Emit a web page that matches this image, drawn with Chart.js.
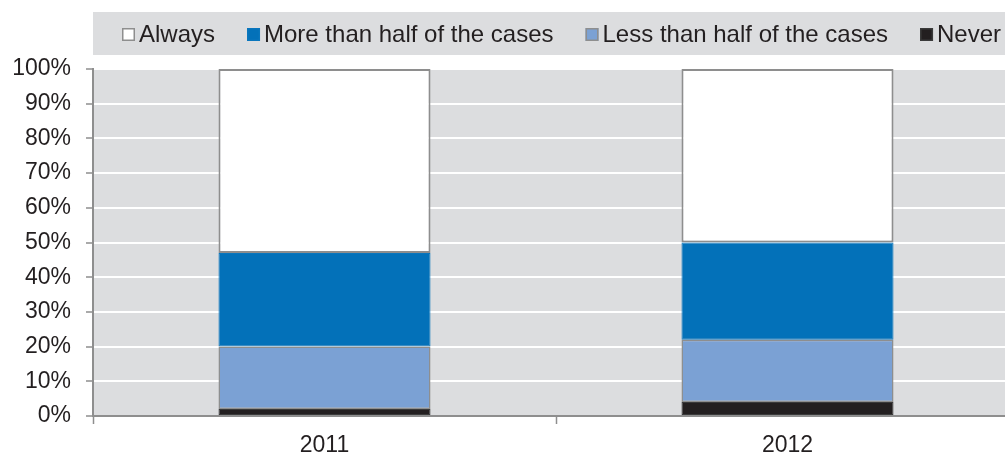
<!DOCTYPE html>
<html>
<head>
<meta charset="utf-8">
<script src="https://cdn.jsdelivr.net/npm/chart.js@4/dist/chart.umd.min.js"></script>
<style>
  html, body { margin: 0; padding: 0; background: #fff; overflow: hidden; width: 1005px; height: 455px; }
  #wrap { position: relative; width: 1020px; height: 455px; }
</style>
</head>
<body>
<div id="wrap"><canvas id="c" width="1020" height="455"></canvas></div>
<script>
// Share of cases, stacked from the bottom up (percent)
const years = ['2011', '2012'];
const never = [2, 4];
const lessThanHalf = [18, 18];
const moreThanHalf = [27, 28];
const always = [53, 50];

// Value axis
const yMin = 0;
const yMax = 100;
const yStep = 10;

const PANEL = '#dcdddf';
const TEXT = '#231f20';
const AXIS = '#8e8e8e';
const FONT = '"Liberation Sans", Arial, sans-serif';

// Grey backdrop behind the plot area and the legend band
const backdrop = {
  id: 'backdrop',
  beforeDraw(chart) {
    const { ctx, chartArea } = chart;
    ctx.save();
    ctx.fillStyle = PANEL;
    ctx.fillRect(chartArea.left, chartArea.top, chartArea.right - chartArea.left, chartArea.bottom - chartArea.top);
    ctx.fillRect(chartArea.left, 12, chart.width - chartArea.left, 43);
    ctx.restore();
  }
};

// Legend row drawn inside the band, top series first
const bandLegend = {
  id: 'bandLegend',
  afterDraw(chart) {
    const { ctx } = chart;
    const items = chart.data.datasets.slice().reverse();
    ctx.save();
    ctx.font = '24px ' + FONT;
    ctx.textBaseline = 'alphabetic';
    let x = 122;
    items.forEach(ds => {
      ctx.fillStyle = ds.backgroundColor;
      ctx.fillRect(x, 28, 13, 13);
      ctx.strokeStyle = ds.borderColor;
      ctx.lineWidth = 1.5;
      ctx.strokeRect(x + 0.75, 28.75, 11.5, 11.5);
      ctx.fillStyle = TEXT;
      ctx.fillText(ds.label, x + 17, 42);
      x += 17 + ctx.measureText(ds.label).width + 32;
    });
    ctx.restore();
  }
};

new Chart(document.getElementById('c'), {
  type: 'bar',
  data: {
    labels: years,
    datasets: [
      { label: 'Never', data: never, backgroundColor: '#231f20', borderColor: '#3a3a3a', borderWidth: 1 },
      { label: 'Less than half of the cases', data: lessThanHalf, backgroundColor: '#7ba1d4', borderColor: '#8e8e8e', borderWidth: 1.5 },
      { label: 'More than half of the cases', data: moreThanHalf, backgroundColor: '#0371b9', borderColor: '#0a76bd', borderWidth: 1 },
      { label: 'Always', data: always, backgroundColor: '#ffffff', borderColor: '#8e8e8e', borderWidth: 2 }
    ]
  },
  options: {
    responsive: false,
    devicePixelRatio: 1,
    animation: false,
    layout: { padding: { top: 69, right: 1, left: 0, bottom: 0 } },
    datasets: {
      bar: { barPercentage: 0.458, categoryPercentage: 1.0, borderSkipped: false }
    },
    plugins: {
      legend: { display: false },
      tooltip: { enabled: false }
    },
    scales: {
      x: {
        stacked: true,
        offset: true,
        afterFit(scale) { scale.height = 39; },
        grid: {
          offset: true,
          drawOnChartArea: false,
          drawTicks: true,
          tickLength: 8,
          tickColor: AXIS,
          tickWidth: 1.5
        },
        border: { display: true, color: AXIS, width: 2 },
        ticks: { color: TEXT, font: { family: FONT, size: 23 }, padding: 8 }
      },
      y: {
        stacked: true,
        min: yMin,
        max: yMax,
        afterFit(scale) { scale.width = 93; },
        grid: {
          color: '#ffffff',
          lineWidth: 2,
          drawTicks: true,
          tickLength: 7,
          tickColor: AXIS,
          tickWidth: 1.5
        },
        border: { display: true, color: AXIS, width: 2 },
        ticks: {
          stepSize: yStep,
          color: TEXT,
          padding: 15,
          font: { family: FONT, size: 23 },
          callback: v => v + '%'
        }
      }
    }
  },
  plugins: [backdrop, bandLegend]
});
</script>
</body>
</html>
